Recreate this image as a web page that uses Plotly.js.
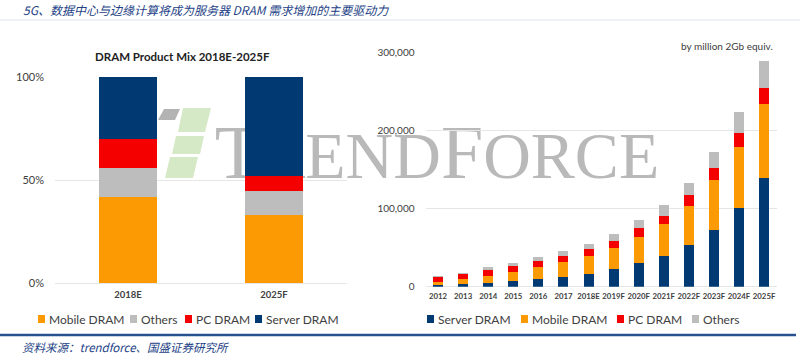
<!DOCTYPE html>
<html>
<head>
<meta charset="utf-8">
<script src="https://cdn.plot.ly/plotly-3.0.1.min.js"></script>
<style>html,body{margin:0;padding:0;background:#fff;}#chart{width:800px;height:357px;}</style>
</head>
<body>
<div id="chart"></div>
<script>
// ---- Left chart: DRAM product mix (%) ----
const mixYears = ['2018E', '2025F'];
const mixMobile = [41.6, 33.1];
const mixOthers = [14.1, 11.7];
const mixPC = [14.0, 7.3];
const mixServer = [30.3, 47.9];
const mixTicks = [0, 50, 100];
const mixTickText = ['0%', '50%', '100%'];

// ---- Right chart: demand by million 2Gb equiv. ----
const years = ['2012','2013','2014','2015','2016','2017','2018E','2019F','2020F','2021F','2022F','2023F','2024F','2025F'];
const serverVol = [2500, 3500, 4500, 7000, 9500, 12500, 16600, 22200, 30900, 39600, 52800, 72400, 100100, 138500];
const mobileVol = [3000, 6000, 9500, 11500, 15500, 19500, 23000, 27700, 33300, 40100, 50700, 63900, 78800, 95800];
const pcVol = [6500, 6300, 7400, 8000, 7900, 7200, 8200, 8900, 10400, 11300, 13700, 15200, 18300, 19700];
const othersVol = [2000, 2200, 3200, 4200, 4600, 6200, 7000, 8500, 10600, 13300, 15300, 21000, 26800, 35000];
const volTicks = [0, 100000, 200000, 300000];

const headerText = '5G、数据中心与边缘计算将成为服务器 DRAM 需求增加的主要驱动力';
const sourceText = '资料来源：trendforce、国盛证券研究所';
const leftTitle = 'DRAM Product Mix 2018E-2025F';
const unitText = 'by million 2Gb equiv.';
const watermark = 'T<span style="font-size:66px">REND</span>F<span style="font-size:66px">ORCE</span>';

const C = {server:'#013a72', mobile:'#fb9a02', pc:'#f40000', others:'#bdbdbd'};
const W = 800, H = 357;
const X = p => p / W;
const Y = p => 1 - p / H;
const FONT = 'Lato, "Open Sans", sans-serif';
const txt = '#404040';

function bar(name, x, y, color, xa, ya) {
  return {type:'bar', name:name, x:x, y:y, marker:{color:color, line:{width:0}},
          xaxis:xa, yaxis:ya, showlegend:false, hoverinfo:'skip'};
}

const data = [
  bar('Mobile DRAM', mixYears, mixMobile, C.mobile, 'x', 'y'),
  bar('Others', mixYears, mixOthers, C.others, 'x', 'y'),
  bar('PC DRAM', mixYears, mixPC, C.pc, 'x', 'y'),
  bar('Server DRAM', mixYears, mixServer, C.server, 'x', 'y'),
  bar('Server DRAM', years, serverVol, C.server, 'x2', 'y2'),
  bar('Mobile DRAM', years, mobileVol, C.mobile, 'x2', 'y2'),
  bar('PC DRAM', years, pcVol, C.pc, 'x2', 'y2'),
  bar('Others', years, othersVol, C.others, 'x2', 'y2')
];

// legend rows (text start x in px for each trace, in trace order)
const legendTextX = [48, 140, 195, 265, 437, 531, 627, 702];
const legendY = 319;
const legendShapes = [], legendAnns = [];
data.forEach((tr, i) => {
  const tx = legendTextX[i];
  legendShapes.push({type:'rect', xref:'paper', yref:'paper', x0:X(tx - 10), x1:X(tx - 3),
    y0:Y(legendY + 4), y1:Y(legendY - 4), line:{width:0}, fillcolor:tr.marker.color});
  legendAnns.push({text:tr.name, xref:'paper', yref:'paper', x:X(tx - 1), y:Y(legendY), xanchor:'left',
    yanchor:'middle', showarrow:false, font:{family:FONT, size:12, color:txt}});
});

const logoGray = `M${X(164)},${Y(109)} L${X(180)},${Y(109)} L${X(175)},${Y(120)} L${X(158)},${Y(120)} Z`;
const logoG1 = `M${X(183)},${Y(108)} L${X(211)},${Y(108)} L${X(205)},${Y(132)} L${X(178)},${Y(132)} Z`;
const logoG2 = `M${X(176)},${Y(136)} L${X(204)},${Y(136)} L${X(200)},${Y(154)} L${X(172)},${Y(154)} Z`;
const logoG3 = `M${X(170)},${Y(157)} L${X(198)},${Y(157)} L${X(193)},${Y(178)} L${X(165)},${Y(178)} Z`;

const layout = {
  width: W, height: H,
  margin: {l:0, r:0, t:0, b:0, pad:0},
  paper_bgcolor: '#ffffff',
  plot_bgcolor: 'rgba(0,0,0,0)',
  barmode: 'stack',
  bargap: 0.6,
  showlegend: false,
  title: {text: headerText, x: X(23), xanchor:'left', y: Y(11), yanchor:'middle',
          font: {family:'"Noto Sans CJK SC", sans-serif', size:12, color:'#243f86', style:'italic'}},
  xaxis: {domain:[X(55), X(347)], type:'category', showgrid:false, showline:false, ticks:'',
          tickangle:0, ticklabelstandoff:4,
          tickfont:{family:FONT, size:9.5, color:txt, weight:'bold'}, fixedrange:true},
  yaxis: {domain:[Y(283.3), Y(76.7)], range:[0, 100], tickmode:'array', tickvals:mixTicks, ticktext:mixTickText,
          showgrid:true, gridcolor:'#e6e6e6', gridwidth:1, zeroline:true, zerolinecolor:'#e6e6e6',
          showline:false, ticks:'', ticklabelstandoff:10,
          tickfont:{family:FONT, size:11, color:txt}, fixedrange:true},
  xaxis2: {domain:[X(425.5), X(776.6)], type:'category', anchor:'y2', showgrid:false, showline:false, ticks:'',
           tickangle:0, ticklabelstandoff:3,
           tickfont:{family:FONT, size:7.8, color:txt, weight:'bold'}, fixedrange:true},
  yaxis2: {domain:[Y(286.7), Y(52.3)], anchor:'x2', range:[0, 300000], tickvals:volTicks, tickformat:',d',
           showgrid:true, gridcolor:'#e6e6e6', gridwidth:1, zeroline:true, zerolinecolor:'#e6e6e6',
           showline:false, ticks:'', ticklabelstandoff:10,
           tickfont:{family:FONT, size:10, color:txt}, fixedrange:true},
  annotations: [
    {text: leftTitle, xref:'paper', yref:'paper', x:X(182), y:Y(57), xanchor:'center', yanchor:'middle',
     showarrow:false, font:{family:FONT, size:11.5, color:'#222', weight:'bold'}},
    {text: unitText, xref:'paper', yref:'paper', x:X(775), y:Y(46), xanchor:'right', yanchor:'middle',
     showarrow:false, font:{family:FONT, size:10, color:txt}},
    {text: sourceText, xref:'paper', yref:'paper', x:X(20), y:Y(347), xanchor:'left', yanchor:'middle',
     showarrow:false, font:{family:'"Noto Sans CJK SC", sans-serif', size:11.5, color:'#243f86', style:'italic'}}
  ].concat(legendAnns),
  shapes: [
    {type:'rect', xref:'paper', yref:'paper', x0:X(212), x1:X(662), y0:Y(178), y1:Y(110), layer:'below',
     line:{width:0}, fillcolor:'rgba(0,0,0,0)',
     label:{text: watermark, textposition:'middle center',
            font:{family:'"Liberation Serif", serif', size:76, color:'#b9b9b9'}}},
    {type:'path', xref:'paper', yref:'paper', path:logoGray, layer:'below', line:{width:0}, fillcolor:'#b3b3b3'},
    {type:'path', xref:'paper', yref:'paper', path:logoG1, layer:'below', line:{width:0}, fillcolor:'#d6e9c6'},
    {type:'path', xref:'paper', yref:'paper', path:logoG2, layer:'below', line:{width:0}, fillcolor:'#d6e9c6'},
    {type:'path', xref:'paper', yref:'paper', path:logoG3, layer:'below', line:{width:0}, fillcolor:'#d6e9c6'},
    {type:'line', xref:'paper', yref:'paper', x0:0, x1:1, y0:Y(20), y1:Y(20), line:{color:'#dfe4ec', width:1}},
    {type:'line', xref:'paper', yref:'paper', x0:0, x1:X(796), y0:Y(335), y1:Y(335), line:{color:'#27508f', width:2.5}}
  ].concat(legendShapes)
};

Plotly.newPlot('chart', data, layout, {staticPlot:true, displayModeBar:false});
</script>
</body>
</html>
